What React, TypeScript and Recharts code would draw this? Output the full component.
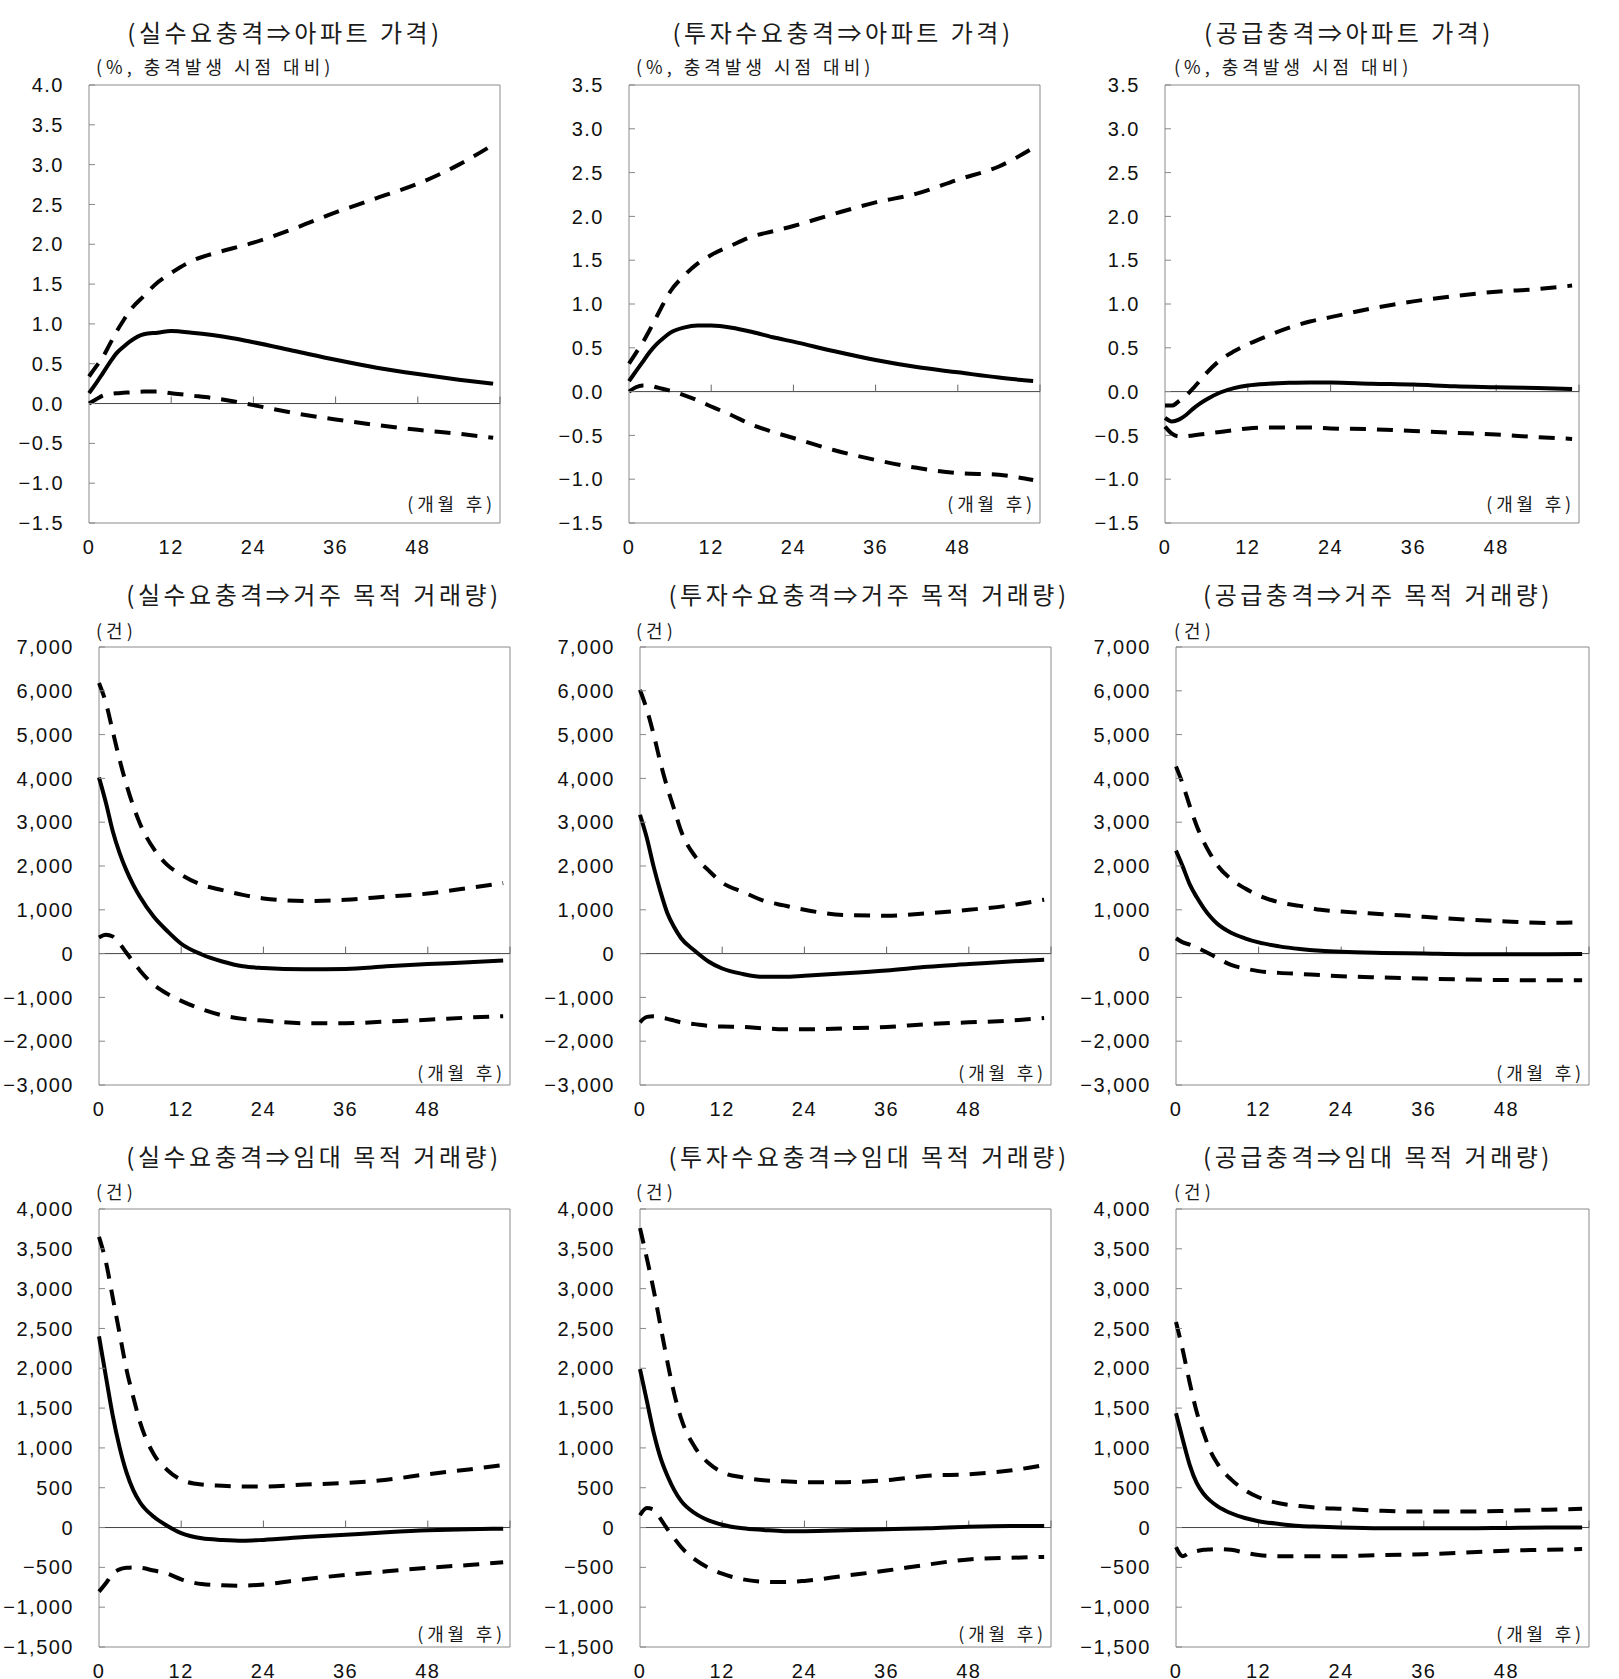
import React from "react";
import {
  LineChart,
  Line,
  XAxis,
  YAxis,
  ReferenceLine,
  ReferenceArea,
} from "recharts";

// months after the shock (shared by all nine panels)
const months = [0, 1, 2, 3, 4, 5, 6, 8, 10, 12, 15, 18, 21, 24, 30, 36, 42, 48, 54, 59];
const xTicks = [0, 12, 24, 36, 48];

// 실수요충격 => 아파트 가격
const realPriceUp = [0.34, 0.46, 0.58, 0.74, 0.9, 1.04, 1.17, 1.35, 1.52, 1.64, 1.79, 1.88, 1.95, 2.02, 2.2, 2.4, 2.58, 2.76, 3.0, 3.25];
const realPriceMid = [0.13, 0.25, 0.38, 0.51, 0.63, 0.71, 0.78, 0.87, 0.89, 0.91, 0.89, 0.86, 0.82, 0.77, 0.66, 0.55, 0.45, 0.37, 0.3, 0.25];
const realPriceLow = [0.0, 0.05, 0.1, 0.12, 0.13, 0.135, 0.14, 0.15, 0.15, 0.13, 0.1, 0.07, 0.03, -0.02, -0.12, -0.2, -0.27, -0.33, -0.38, -0.43];

// 투자수요충격 => 아파트 가격
const invPriceUp = [0.32, 0.44, 0.56, 0.7, 0.85, 1.0, 1.14, 1.32, 1.46, 1.56, 1.67, 1.77, 1.83, 1.89, 2.03, 2.16, 2.26, 2.42, 2.57, 2.78];
const invPriceMid = [0.12, 0.23, 0.34, 0.45, 0.54, 0.61, 0.67, 0.73, 0.755, 0.755, 0.73, 0.68, 0.62, 0.57, 0.46, 0.36, 0.28, 0.22, 0.16, 0.12];
const invPriceLow = [0.0, 0.05, 0.07, 0.07, 0.05, 0.03, 0.01, -0.04, -0.1, -0.17, -0.27, -0.38, -0.46, -0.53, -0.67, -0.78, -0.87, -0.93, -0.95, -1.01];

// 공급충격 => 아파트 가격
const supPriceUp = [-0.16, -0.16, -0.11, -0.05, 0.03, 0.12, 0.21, 0.36, 0.46, 0.54, 0.64, 0.73, 0.8, 0.85, 0.95, 1.03, 1.09, 1.14, 1.17, 1.21];
const supPriceMid = [-0.3, -0.34, -0.32, -0.27, -0.2, -0.14, -0.09, -0.01, 0.04, 0.07, 0.09, 0.1, 0.105, 0.105, 0.09, 0.08, 0.06, 0.05, 0.04, 0.03];
const supPriceLow = [-0.4, -0.48, -0.51, -0.51, -0.5, -0.49, -0.48, -0.46, -0.44, -0.42, -0.41, -0.41, -0.41, -0.42, -0.43, -0.45, -0.47, -0.49, -0.52, -0.54];

// 실수요충격 => 거주 목적 거래량
const realResUp = [6180, 5730, 5080, 4430, 3860, 3370, 2960, 2390, 2020, 1800, 1570, 1450, 1340, 1260, 1200, 1230, 1300, 1370, 1500, 1610];
const realResMid = [4020, 3450, 2800, 2300, 1900, 1570, 1290, 840, 510, 225, -20, -180, -290, -330, -360, -350, -290, -240, -200, -160];
const realResLow = [370, 430, 390, 225, 20, -190, -390, -710, -920, -1080, -1270, -1410, -1490, -1530, -1590, -1590, -1550, -1510, -1460, -1430];

// 투자수요충격 => 거주 목적 거래량
const invResUp = [6020, 5570, 5000, 4350, 3780, 3290, 2800, 2230, 1900, 1620, 1410, 1210, 1100, 1000, 880, 865, 920, 1000, 1100, 1230];
const invResMid = [3170, 2640, 1980, 1410, 920, 600, 350, 65, -180, -340, -465, -530, -530, -505, -450, -385, -300, -240, -180, -140];
const invResLow = [-1570, -1445, -1430, -1460, -1490, -1530, -1570, -1610, -1650, -1665, -1675, -1705, -1730, -1730, -1705, -1675, -1610, -1570, -1530, -1470];

// 공급충격 => 거주 목적 거래량
const supResUp = [4270, 3860, 3370, 2920, 2560, 2270, 2020, 1700, 1490, 1330, 1170, 1090, 1000, 960, 900, 840, 780, 735, 700, 720];
const supResMid = [2350, 1980, 1580, 1290, 1045, 840, 680, 475, 350, 255, 165, 105, 65, 40, 15, 0, -15, -15, -15, -10];
const supResLow = [350, 255, 205, 140, 65, -15, -100, -260, -340, -400, -440, -465, -490, -515, -545, -570, -590, -605, -610, -610];

// 실수요충격 => 임대 목적 거래량
const realRentUp = [3650, 3340, 2890, 2440, 1990, 1640, 1320, 920, 720, 600, 540, 525, 515, 515, 540, 560, 600, 670, 730, 785];
const realRentMid = [2400, 1900, 1410, 1010, 695, 470, 315, 135, 20, -70, -135, -155, -165, -155, -120, -90, -60, -35, -20, -15];
const realRentLow = [-805, -700, -580, -525, -505, -500, -505, -540, -580, -650, -710, -725, -730, -715, -650, -595, -550, -505, -470, -435];

// 투자수요충격 => 임대 목적 거래량
const invRentUp = [3760, 3380, 2980, 2530, 2080, 1680, 1370, 1010, 810, 695, 630, 595, 580, 570, 570, 595, 650, 670, 715, 785];
const invRentMid = [1990, 1590, 1190, 875, 650, 470, 335, 180, 90, 35, -10, -30, -45, -45, -35, -20, -10, 10, 20, 20];
const invRentLow = [155, 245, 225, 110, -20, -135, -245, -400, -505, -580, -650, -680, -685, -670, -605, -540, -465, -400, -380, -370];

// 공급충격 => 임대 목적 거래량
const supRentUp = [2580, 2220, 1815, 1455, 1190, 960, 805, 605, 470, 380, 305, 270, 245, 235, 210, 200, 200, 210, 225, 235];
const supRentMid = [1435, 1100, 785, 560, 425, 335, 270, 180, 120, 80, 45, 20, 10, 0, -10, -10, -10, -5, 0, 0];
const supRentLow = [-245, -360, -315, -295, -280, -275, -270, -280, -315, -345, -360, -360, -360, -360, -345, -335, -315, -290, -280, -270];

const priceTicks4 = [-1.5, -1.0, -0.5, 0, 0.5, 1.0, 1.5, 2.0, 2.5, 3.0, 3.5, 4.0];
const priceTicks35 = [-1.5, -1.0, -0.5, 0, 0.5, 1.0, 1.5, 2.0, 2.5, 3.0, 3.5];
const resTicks = [-3000, -2000, -1000, 0, 1000, 2000, 3000, 4000, 5000, 6000, 7000];
const rentTicks = [-1500, -1000, -500, 0, 500, 1000, 1500, 2000, 2500, 3000, 3500, 4000];

const PLOT_H = 438;
const Y_W = 110;
const X_H = 44;
const TOP_PAD = 14;

const KR = "'Noto Sans CJK KR', 'Noto Sans', sans-serif";
const NUM = "'Liberation Sans', Arial, sans-serif";

const fmtDec = (v: number) => (v < 0 ? "\u2212" : "") + Math.abs(v).toFixed(1);
const fmtInt = (v: number) =>
  (v < 0 ? "\u2212" : "") + Math.abs(v).toLocaleString("en-US");

const build = (up: number[], mid: number[], low: number[]) =>
  months.map((m, i) => ({ m, up: up[i], mid: mid[i], low: low[i] }));

type Cfg = {
  title: string;
  unit: string;
  left: number;
  top: number;
  w: number;
  titleX: number;
  titleY: number;
  unitX: number;
  unitY: number;
  domain: [number, number];
  ticks: number[];
  fmt: (v: number) => string;
  rows: { m: number; up: number; mid: number; low: number }[];
  monthOff: number;
};

const PCT = "(%, 충격발생 시점 대비)";
const CNT = "(건)";

const panels: Cfg[] = [
  { title: "(실수요충격⇒아파트 가격)", unit: PCT, left: 89, top: 85, w: 411, titleX: 285, titleY: 32, unitX: 96, unitY: 66, domain: [-1.5, 4], ticks: priceTicks4, fmt: fmtDec, rows: build(realPriceUp, realPriceMid, realPriceLow), monthOff: 20 },
  { title: "(투자수요충격⇒아파트 가격)", unit: PCT, left: 629, top: 85, w: 411, titleX: 843, titleY: 32, unitX: 636, unitY: 66, domain: [-1.5, 3.5], ticks: priceTicks35, fmt: fmtDec, rows: build(invPriceUp, invPriceMid, invPriceLow), monthOff: 20 },
  { title: "(공급충격⇒아파트 가격)", unit: PCT, left: 1165, top: 85, w: 414, titleX: 1349, titleY: 32, unitX: 1174, unitY: 66, domain: [-1.5, 3.5], ticks: priceTicks35, fmt: fmtDec, rows: build(supPriceUp, supPriceMid, supPriceLow), monthOff: 20 },
  { title: "(실수요충격⇒거주 목적 거래량)", unit: CNT, left: 99, top: 647, w: 411, titleX: 314, titleY: 594, unitX: 96, unitY: 630, domain: [-3000, 7000], ticks: resTicks, fmt: fmtInt, rows: build(realResUp, realResMid, realResLow), monthOff: 13 },
  { title: "(투자수요충격⇒거주 목적 거래량)", unit: CNT, left: 640, top: 647, w: 411, titleX: 869, titleY: 594, unitX: 636, unitY: 630, domain: [-3000, 7000], ticks: resTicks, fmt: fmtInt, rows: build(invResUp, invResMid, invResLow), monthOff: 13 },
  { title: "(공급충격⇒거주 목적 거래량)", unit: CNT, left: 1176, top: 647, w: 413, titleX: 1378, titleY: 594, unitX: 1174, unitY: 630, domain: [-3000, 7000], ticks: resTicks, fmt: fmtInt, rows: build(supResUp, supResMid, supResLow), monthOff: 13 },
  { title: "(실수요충격⇒임대 목적 거래량)", unit: CNT, left: 99, top: 1209, w: 411, titleX: 314, titleY: 1156, unitX: 96, unitY: 1191, domain: [-1500, 4000], ticks: rentTicks, fmt: fmtInt, rows: build(realRentUp, realRentMid, realRentLow), monthOff: 14 },
  { title: "(투자수요충격⇒임대 목적 거래량)", unit: CNT, left: 640, top: 1209, w: 411, titleX: 869, titleY: 1156, unitX: 636, unitY: 1191, domain: [-1500, 4000], ticks: rentTicks, fmt: fmtInt, rows: build(invRentUp, invRentMid, invRentLow), monthOff: 14 },
  { title: "(공급충격⇒임대 목적 거래량)", unit: CNT, left: 1176, top: 1209, w: 413, titleX: 1378, titleY: 1156, unitX: 1174, unitY: 1191, domain: [-1500, 4000], ticks: rentTicks, fmt: fmtInt, rows: build(supRentUp, supRentMid, supRentLow), monthOff: 14 },
];

const textBase = {
  position: "absolute" as const,
  fontFamily: KR,
  lineHeight: 1,
  whiteSpace: "nowrap" as const,
  color: "#1a1a1a",
};

const tickStyle = { fontSize: 20, fill: "#111", fontFamily: NUM, letterSpacing: 1.5 };

function Panel({ cfg }: { cfg: Cfg }) {
  const [lo, hi] = cfg.domain;
  // 7px tick length expressed in data units of this panel
  const tickLen = ((hi - lo) * 7) / PLOT_H;
  return (
    <>
      <div
        style={{
          ...textBase,
          left: cfg.titleX,
          top: cfg.titleY,
          transform: "translate(-50%, -50%)",
          fontSize: 24,
          letterSpacing: 3.5,
        }}
      >
        {cfg.title}
      </div>
      <div
        style={{
          ...textBase,
          left: cfg.unitX,
          top: cfg.unitY,
          transform: "translateY(-50%)",
          fontSize: 18,
          letterSpacing: 4,
        }}
      >
        {cfg.unit}
      </div>
      <div style={{ position: "absolute", left: cfg.left - Y_W, top: cfg.top - TOP_PAD }}>
        <LineChart
          width={Y_W + cfg.w + 4}
          height={TOP_PAD + PLOT_H + X_H}
          data={cfg.rows}
          margin={{ top: TOP_PAD, right: 4, bottom: 0, left: 0 }}
        >
          <ReferenceArea
            x1={0}
            x2={60}
            y1={lo}
            y2={hi}
            fill="none"
            stroke="#8a8a8a"
            strokeWidth={1}
          />
          <ReferenceLine y={0} stroke="#444" strokeWidth={1} />
          {[12, 24, 36, 48, 60].map((t) => (
            <ReferenceLine
              key={t}
              segment={[
                { x: t, y: 0 },
                { x: t, y: tickLen },
              ]}
              stroke="#666"
              strokeWidth={1}
            />
          ))}
          <XAxis
            dataKey="m"
            type="number"
            domain={[0, 60]}
            ticks={xTicks}
            interval={0}
            tickLine={false}
            axisLine={false}
            tickSize={0}
            tickMargin={17}
            height={X_H}
            tick={tickStyle}
          />
          <YAxis
            type="number"
            domain={cfg.domain}
            ticks={cfg.ticks}
            interval={0}
            width={Y_W}
            tickSize={-6}
            tickMargin={31}
            axisLine={false}
            tickLine={{ stroke: "#888" }}
            tickFormatter={cfg.fmt}
            tick={tickStyle}
          />
          <Line
            dataKey="up"
            type="monotone"
            stroke="#000"
            strokeWidth={4}
            strokeDasharray="16 11"
            dot={false}
            isAnimationActive={false}
          />
          <Line
            dataKey="mid"
            type="monotone"
            stroke="#000"
            strokeWidth={4}
            dot={false}
            isAnimationActive={false}
          />
          <Line
            dataKey="low"
            type="monotone"
            stroke="#000"
            strokeWidth={4}
            strokeDasharray="16 11"
            dot={false}
            isAnimationActive={false}
          />
        </LineChart>
      </div>
      <div
        style={{
          ...textBase,
          left: cfg.left + cfg.w - 4,
          top: cfg.top + PLOT_H - cfg.monthOff,
          transform: "translate(-100%, -50%)",
          fontSize: 18,
          letterSpacing: 3.8,
        }}
      >
        (개월 후)
      </div>
    </>
  );
}

export default function App() {
  return (
    <div
      style={{
        position: "absolute",
        left: 0,
        top: 0,
        width: 1619,
        height: 1679,
        background: "#fff",
        overflow: "hidden",
      }}
    >
      {panels.map((p) => (
        <Panel key={p.title} cfg={p} />
      ))}
    </div>
  );
}
